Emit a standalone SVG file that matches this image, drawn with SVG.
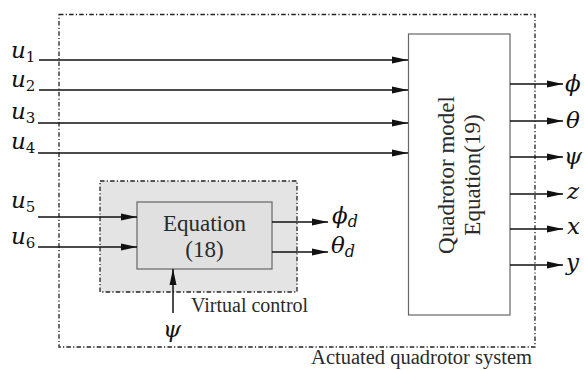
<svg xmlns="http://www.w3.org/2000/svg" width="584" height="370" viewBox="0 0 584 370">
<style>
.dd{fill:none;stroke:#222;stroke-width:1.3;stroke-dasharray:4.5 2.2 1.2 2.2}
.box{stroke:#666;stroke-width:1.2}
.ln{stroke:#111;stroke-width:1.5;fill:none}
.t{font-family:"Liberation Serif","Times New Roman",serif;fill:#2a2a2a}
.m{font-family:"DejaVu Serif",serif;font-style:italic;font-size:23px;fill:#111}
.s{font-style:normal;font-size:15px}
</style>
<defs>
<marker id="ah" markerWidth="16" markerHeight="8" refX="16" refY="4" orient="auto" markerUnits="userSpaceOnUse">
<path d="M0,0.5 L16,4 L0,7.5 Z" fill="#111"/>
</marker>
</defs>
<rect width="584" height="370" fill="#fff"/>
<g id="system">
<rect class="dd" x="59" y="14.5" width="476" height="332.5"/>
<text class="t" x="532" y="364" font-size="20.5" text-anchor="end">Actuated quadrotor system</text>
</g>
<g id="virtual">
<rect x="100" y="181" width="197" height="111" fill="#e4e4e4"/>
<rect class="dd" x="100" y="181" width="197" height="111"/>
<text class="t" x="191" y="312" font-size="20">Virtual control</text>
</g>
<g id="eq18">
<rect class="box" x="137" y="202" width="135" height="67" fill="#e0e0e0"/>
<text class="t" x="204.5" y="231" font-size="23" text-anchor="middle">Equation</text>
<text class="t" x="204.5" y="257" font-size="23" text-anchor="middle">(18)</text>
</g>
<g id="model">
<rect class="box" x="408.5" y="34" width="101.5" height="281" fill="#fff"/>
<text class="t" transform="translate(454,175) rotate(-90)" font-size="23" text-anchor="middle">Quadrotor model</text>
<text class="t" transform="translate(480,175) rotate(-90)" font-size="23" text-anchor="middle">Equation(19)</text>
</g>
<g id="connectors">
<line class="ln" x1="39" y1="60" x2="408" y2="60" marker-end="url(#ah)"/>
<line class="ln" x1="39" y1="90" x2="408" y2="90" marker-end="url(#ah)"/>
<line class="ln" x1="38" y1="123" x2="408" y2="123" marker-end="url(#ah)"/>
<line class="ln" x1="38" y1="153" x2="408" y2="153" marker-end="url(#ah)"/>
<line class="ln" x1="38" y1="217" x2="137" y2="217" marker-end="url(#ah)"/>
<line class="ln" x1="38" y1="247" x2="137" y2="247" marker-end="url(#ah)"/>
<line class="ln" x1="272" y1="222" x2="328" y2="222" marker-end="url(#ah)"/>
<line class="ln" x1="272" y1="252" x2="328" y2="252" marker-end="url(#ah)"/>
<line class="ln" x1="173" y1="313" x2="173" y2="269" marker-end="url(#ah)"/>
<line class="ln" x1="510" y1="84" x2="563" y2="84" marker-end="url(#ah)"/>
<line class="ln" x1="510" y1="121" x2="563" y2="121" marker-end="url(#ah)"/>
<line class="ln" x1="510" y1="157" x2="563" y2="157" marker-end="url(#ah)"/>
<line class="ln" x1="510" y1="194" x2="563" y2="194" marker-end="url(#ah)"/>
<line class="ln" x1="510" y1="229" x2="563" y2="229" marker-end="url(#ah)"/>
<line class="ln" x1="510" y1="265" x2="563" y2="265" marker-end="url(#ah)"/>
</g>
<g id="labels">
<text class="m" x="11" y="58">u<tspan class="s" dy="4">1</tspan></text>
<text class="m" x="11" y="87">u<tspan class="s" dy="4">2</tspan></text>
<text class="m" x="11" y="119">u<tspan class="s" dy="4">3</tspan></text>
<text class="m" x="11" y="149">u<tspan class="s" dy="4">4</tspan></text>
<text class="m" x="11" y="208">u<tspan class="s" dy="4">5</tspan></text>
<text class="m" x="11" y="244">u<tspan class="s" dy="4">6</tspan></text>
<text class="m" x="332" y="223">ϕ<tspan font-size="16" dy="4">d</tspan></text>
<text class="m" x="331" y="253">θ<tspan font-size="16" dy="4">d</tspan></text>
<text class="m" x="163" y="337">ψ</text>
<text class="m" x="565" y="91">ϕ</text>
<text class="m" x="566" y="128">θ</text>
<text class="m" x="564" y="164">ψ</text>
<text class="m" x="567" y="199">z</text>
<text class="m" x="567" y="234">x</text>
<text class="m" x="566" y="270">y</text>
</g>
</svg>
